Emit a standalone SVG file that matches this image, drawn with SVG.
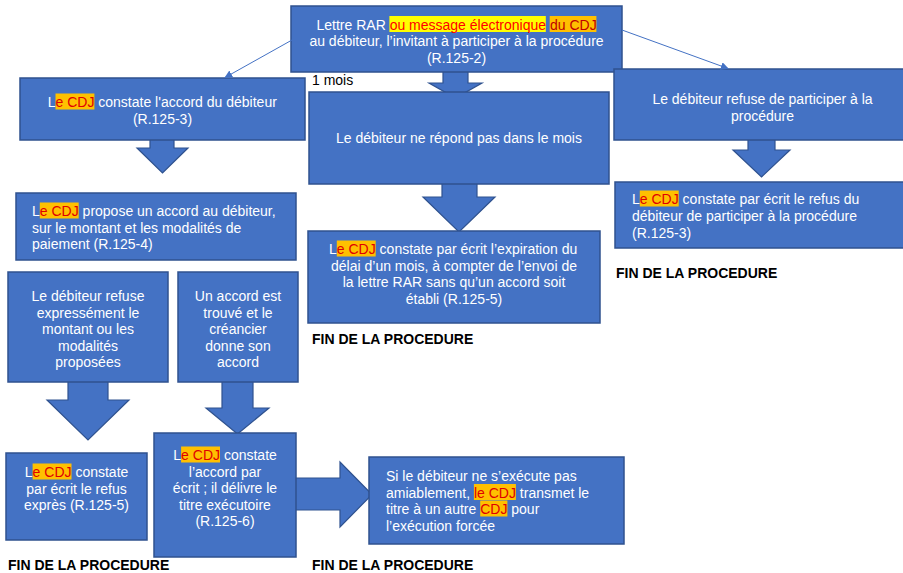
<svg xmlns="http://www.w3.org/2000/svg" width="903" height="573" viewBox="0 0 903 573">
<style>
.box{fill:#4472C4;stroke:#2F528F;stroke-width:1.5}
.arr{fill:#4472C4;stroke:#2F528F;stroke-width:1.2}
.t{font-family:"Liberation Sans",Arial,sans-serif;font-size:14px;fill:#fff}
.c{text-anchor:middle}
.r{fill:#E00000}
.hy{fill:#FFFF00}
.ho{fill:#FFC000}
.fin{font-family:"Liberation Sans",Arial,sans-serif;font-size:14px;font-weight:bold;fill:#000}
.lbl{font-family:"Liberation Sans",Arial,sans-serif;font-size:14px;fill:#000}
.ln{stroke:#4472C4;stroke-width:1;fill:none}
</style>
<defs>
<marker id="ah" viewBox="0 0 10 10" refX="9" refY="5" markerWidth="8" markerHeight="8" markerUnits="userSpaceOnUse" orient="auto">
<path d="M0,0 L10,5 L0,10 z" fill="#4472C4"/>
</marker>
</defs>
<rect width="903" height="573" fill="#fff"/>
<g id="block-arrows">
<path class="arr" d="M443,65 V83 H429 L455.5,98 L482,83 H468 V65 Z"/>
<path class="arr" d="M150,135 V148 H137 L162.5,173 L188,148 H174 V135 Z"/>
<path class="arr" d="M442,180 V197 H423 L459,232 L495,197 H477 V180 Z"/>
<path class="arr" d="M748,137 V150 H733 L761.5,177 L790,150 H775 V137 Z"/>
<path class="arr" d="M68,378 V400 H47 L88,440 L129,400 H108 V378 Z"/>
<path class="arr" d="M222,378 V408 H206 L237.5,434 L269,408 H253 V378 Z"/>
<path class="arr" d="M292,478 H340 V462 L372,494.5 L340,527 V510 H292 Z"/>
</g>
<g id="n-top">
<rect class="box" x="291" y="6" width="331" height="66"/>
<rect class="hy" x="389.4" y="16" width="156.4" height="16"/>
<rect class="ho" x="549.7" y="16" width="46.7" height="16"/>
<text class="t" x="316.5" y="29.5">Lettre RAR <tspan fill="#FF0000">ou message électronique</tspan> <tspan fill="#C00000">du CDJ</tspan></text>
<text class="t c" x="456.5" y="46">au débiteur, l’invitant à participer à la procédure</text>
<text class="t c" x="456.5" y="62.5">(R.125-2)</text>
</g>
<g id="n-accord">
<rect class="box" x="20" y="78" width="285" height="62"/>
<rect class="ho" x="55.5" y="93.5" width="38.9" height="16"/>
<text class="t" x="47.7" y="107">L<tspan class="r">e CDJ</tspan> constate l'accord du débiteur</text>
<text class="t c" x="162.5" y="123.5">(R.125-3)</text>
</g>
<g id="n-propose">
<rect class="box" x="16" y="193" width="280" height="67"/>
<rect class="ho" x="39.8" y="202.5" width="38.9" height="16"/>
<text class="t" x="32" y="216">L<tspan class="r">e CDJ</tspan> propose un accord au débiteur,</text>
<text class="t" x="32" y="232.5">sur le montant et les modalités de</text>
<text class="t" x="32" y="249">paiement (R.125-4)</text>
</g>
<g id="n-nerepond">
<rect class="box" x="309" y="92" width="300" height="92"/>
<text class="t c" x="459" y="143">Le débiteur ne répond pas dans le mois</text>
</g>
<g id="n-expiration">
<rect class="box" x="308" y="231" width="292" height="92"/>
<rect class="ho" x="336.8" y="240.5" width="38.9" height="16"/>
<text class="t" x="329" y="254">L<tspan class="r">e CDJ</tspan> constate par écrit l’expiration du</text>
<text class="t c" x="454" y="270.5">délai d’un mois, à compter de l’envoi de</text>
<text class="t c" x="454" y="287">la lettre RAR sans qu’un accord soit</text>
<text class="t c" x="454" y="303.5">établi (R.125-5)</text>
</g>
<g id="n-refuse">
<rect class="box" x="614" y="69" width="297" height="71"/>
<text class="t c" x="762.5" y="104">Le débiteur refuse de participer à la</text>
<text class="t c" x="762.5" y="120.5">procédure</text>
</g>
<g id="n-refus-ecrit">
<rect class="box" x="615" y="182" width="296" height="66"/>
<rect class="ho" x="639.8" y="190.5" width="38.9" height="16"/>
<text class="t" x="632" y="204">L<tspan class="r">e CDJ</tspan> constate par écrit le refus du</text>
<text class="t" x="632" y="221">débiteur de participer à la procédure</text>
<text class="t" x="632" y="237.5">(R.125-3)</text>
</g>
<g id="n-refuse-expr">
<rect class="box" x="8" y="272" width="160" height="110"/>
<text class="t c" x="88" y="301">Le débiteur refuse</text>
<text class="t c" x="88" y="317.5">expressément le</text>
<text class="t c" x="88" y="334">montant ou les</text>
<text class="t c" x="88" y="350.5">modalités</text>
<text class="t c" x="88" y="367">proposées</text>
</g>
<g id="n-accord-trouve">
<rect class="box" x="178" y="272" width="120" height="110"/>
<text class="t c" x="238" y="301">Un accord est</text>
<text class="t c" x="238" y="317.5">trouvé et le</text>
<text class="t c" x="238" y="334">créancier</text>
<text class="t c" x="238" y="350.5">donne son</text>
<text class="t c" x="238" y="367">accord</text>
</g>
<g id="n-refus-expres">
<rect class="box" x="6" y="453" width="141" height="87"/>
<rect class="ho" x="32.6" y="463.5" width="38.9" height="16"/>
<text class="t" x="24.8" y="477">L<tspan class="r">e CDJ</tspan> constate</text>
<text class="t c" x="76.5" y="493.5">par écrit le refus</text>
<text class="t c" x="76.5" y="510">exprès (R.125-5)</text>
</g>
<g id="n-titre">
<rect class="box" x="154" y="433" width="142" height="124"/>
<rect class="ho" x="181.1" y="446.5" width="38.9" height="16"/>
<text class="t" x="173.3" y="460">L<tspan class="r">e CDJ</tspan> constate</text>
<text class="t c" x="225" y="476.5">l’accord par</text>
<text class="t c" x="225" y="493">écrit ; il délivre le</text>
<text class="t c" x="225" y="509.5">titre exécutoire</text>
<text class="t c" x="225" y="526">(R.125-6)</text>
</g>
<g id="n-execution">
<rect class="box" x="369" y="457" width="255" height="87"/>
<rect class="ho" x="473.9" y="484" width="42" height="16"/>
<rect class="ho" x="480.2" y="500.5" width="27.2" height="16"/>
<text class="t" x="386" y="481">Si le débiteur ne s’exécute pas</text>
<text class="t" x="386" y="497.5">amiablement, <tspan class="r">le CDJ</tspan> transmet le</text>
<text class="t" x="386" y="514">titre à un autre <tspan class="r">CDJ</tspan> pour</text>
<text class="t" x="386" y="530.5">l’exécution forcée</text>
</g>
<g id="connectors">
<line class="ln" x1="292" y1="40" x2="225" y2="77.5" marker-end="url(#ah)"/>
<line class="ln" x1="622" y1="30" x2="728" y2="68.5" marker-end="url(#ah)"/>
</g>
<g id="labels">
<text class="lbl" x="312" y="85">1 mois</text>
<text class="fin" x="312" y="344">FIN DE LA PROCEDURE</text>
<text class="fin" x="616" y="278">FIN DE LA PROCEDURE</text>
<text class="fin" x="8" y="570">FIN DE LA PROCEDURE</text>
<text class="fin" x="312" y="570">FIN DE LA PROCEDURE</text>
</g>
</svg>
